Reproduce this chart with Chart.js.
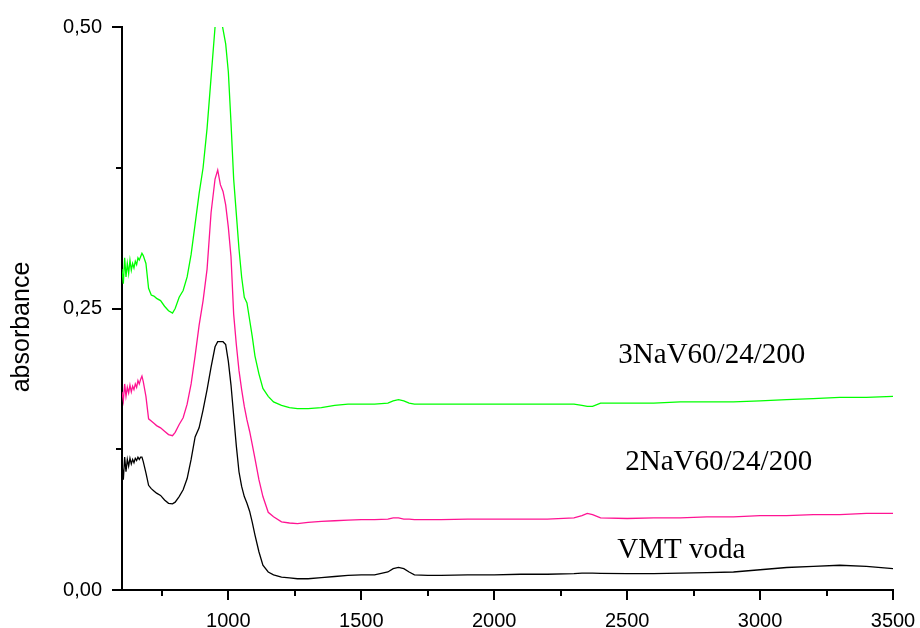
<!DOCTYPE html>
<html>
<head>
<meta charset="utf-8">
<script src="https://cdn.jsdelivr.net/npm/chart.js@4"></script>
<style>
  html, body { margin: 0; padding: 0; background: #fff; }
  #wrap { width: 920px; height: 628px; }
</style>
</head>
<body>
<div id="wrap"><canvas id="c" width="920" height="628"></canvas></div>
<script>
'use strict';

/* ══════════════ DATA ══════════════ */
const wavenumber = [
  600, 605, 610, 615, 620, 625, 630, 635, 640, 645, 650, 655, 660, 665, 670, 675, 680,
  690, 700, 710, 720, 730, 745, 760, 775, 790, 800, 815, 830, 845, 860, 875, 890, 905,
  920, 935, 950, 960, 970, 980, 990, 1000, 1010, 1020, 1030, 1040, 1050, 1060, 1070,
  1080, 1090, 1100, 1115, 1130, 1150, 1170, 1200, 1230, 1260, 1300, 1350, 1400, 1450,
  1500, 1550, 1600, 1620, 1640, 1660, 1680, 1700, 1750, 1800, 1900, 2000, 2100, 2200,
  2300, 2330, 2350, 2370, 2400, 2500, 2600, 2700, 2800, 2900, 3000, 3100, 3200, 3300,
  3400, 3500
];

const vmtVoda = [
  0.112, 0.098, 0.118, 0.105, 0.116, 0.110, 0.117, 0.112, 0.116, 0.113, 0.117, 0.115, 0.118, 0.116, 0.118, 0.118, 0.114,
  0.104, 0.093, 0.090, 0.088, 0.086, 0.084, 0.080, 0.077, 0.0765, 0.078, 0.083, 0.089, 0.099, 0.116, 0.136, 0.144, 0.160,
  0.178, 0.198, 0.216, 0.2205, 0.2205, 0.2205, 0.218, 0.203, 0.182, 0.155, 0.128, 0.105, 0.092, 0.083, 0.077,
  0.070, 0.060, 0.049, 0.034, 0.022, 0.016, 0.0135, 0.0115, 0.0107, 0.010, 0.010, 0.011, 0.012, 0.013,
  0.0135, 0.0135, 0.016, 0.019, 0.020, 0.019, 0.016, 0.0135, 0.013, 0.013, 0.0135, 0.0135, 0.014, 0.014,
  0.0145, 0.015, 0.015, 0.015, 0.0148, 0.0145, 0.0145, 0.015, 0.0155, 0.016, 0.018, 0.020, 0.021, 0.022,
  0.021, 0.019
];

const na2V = [
  0.176, 0.168, 0.183, 0.172, 0.180, 0.175, 0.182, 0.176, 0.181, 0.178, 0.183, 0.180, 0.186, 0.183, 0.187, 0.190, 0.185,
  0.172, 0.152, 0.150, 0.148, 0.146, 0.144, 0.141, 0.138, 0.137, 0.140, 0.147, 0.153, 0.165, 0.183, 0.208, 0.235, 0.257,
  0.285, 0.335, 0.365, 0.373, 0.360, 0.354, 0.342, 0.322, 0.296, 0.245, 0.218, 0.195, 0.178, 0.163, 0.151,
  0.141, 0.129, 0.117, 0.098, 0.083, 0.069, 0.065, 0.0605, 0.0595, 0.059, 0.060, 0.061, 0.0615, 0.062,
  0.0625, 0.0625, 0.063, 0.064, 0.064, 0.063, 0.063, 0.0625, 0.0625, 0.0625, 0.063, 0.063, 0.063, 0.063,
  0.064, 0.066, 0.068, 0.067, 0.064, 0.0635, 0.064, 0.064, 0.065, 0.065, 0.066, 0.066, 0.067, 0.067,
  0.068, 0.068
];

const na3V = [
  0.285, 0.272, 0.295, 0.278, 0.290, 0.281, 0.293, 0.284, 0.290, 0.286, 0.292, 0.289, 0.295, 0.293, 0.296, 0.299, 0.297,
  0.290, 0.268, 0.262, 0.261, 0.259, 0.257, 0.252, 0.248, 0.246, 0.250, 0.260, 0.266, 0.278, 0.298, 0.325, 0.352, 0.375,
  0.410, 0.455, 0.500, 0.515, 0.510, 0.498, 0.485, 0.460, 0.415, 0.365, 0.334, 0.303, 0.278, 0.260, 0.255,
  0.240, 0.225, 0.208, 0.192, 0.179, 0.172, 0.167, 0.164, 0.162, 0.161, 0.161, 0.162, 0.164, 0.165,
  0.165, 0.165, 0.166, 0.168, 0.169, 0.168, 0.166, 0.165, 0.165, 0.165, 0.165, 0.165, 0.165, 0.165,
  0.165, 0.164, 0.163, 0.163, 0.166, 0.166, 0.166, 0.167, 0.167, 0.167, 0.168, 0.169, 0.170, 0.171,
  0.171, 0.172
];

const seriesNames = ['VMT voda', '2NaV60/24/200', '3NaV60/24/200'];
const seriesColors = ['#000000', '#ff1493', '#00ff00'];
// label anchor (data coords, left/baseline)
const labelX = [2463, 2493, 2467];
const labelY = [0.028, 0.1062, 0.2013];

const xTicks = [750, 1000, 1250, 1500, 1750, 2000, 2250, 2500, 2750, 3000, 3250, 3500];
const yTicks = [0, 0.125, 0.25, 0.375, 0.5];
const yTitle = 'absorbance';

/* ══════════════ HELPERS ══════════════ */
const isMajorX = v => v % 500 === 0;
const isMajorY = v => Math.abs((v / 0.25) - Math.round(v / 0.25)) < 1e-6;
const fmtY = v => v.toFixed(2).replace('.', ',');
const toPoints = ys => wavenumber.map((x, i) => ({ x, y: ys[i] }));

/* ══════════════ PLUGINS ══════════════ */
const minorTicks = {
  id: 'minorTicks',
  afterDraw(chart) {
    const { ctx, chartArea: a, scales: { x, y } } = chart;
    ctx.save();
    ctx.strokeStyle = '#000';
    ctx.lineWidth = 2;
    ctx.beginPath();
    xTicks.filter(v => !isMajorX(v)).forEach(v => {
      const px = Math.round(x.getPixelForValue(v));
      ctx.moveTo(px, a.bottom); ctx.lineTo(px, a.bottom + 6);
    });
    yTicks.filter(v => !isMajorY(v)).forEach(v => {
      const py = Math.round(y.getPixelForValue(v));
      ctx.moveTo(a.left, py); ctx.lineTo(a.left - 6, py);
    });
    ctx.stroke();
    ctx.restore();
  }
};

const annotations = {
  id: 'annotations',
  afterDatasetsDraw(chart) {
    const { ctx, scales: { x, y } } = chart;
    ctx.save();
    ctx.fillStyle = '#000';
    ctx.font = '29px "Liberation Serif", serif';
    ctx.textAlign = 'left';
    ctx.textBaseline = 'alphabetic';
    seriesNames.forEach((name, i) => {
      ctx.fillText(name, x.getPixelForValue(labelX[i]), y.getPixelForValue(labelY[i]));
    });
    // y axis title
    ctx.translate(22, 327);
    ctx.rotate(-Math.PI / 2);
    ctx.textAlign = 'center';
    ctx.textBaseline = 'middle';
    ctx.font = '25px "Liberation Sans", Arial, sans-serif';
    ctx.fillText(yTitle, 0, 0);
    ctx.restore();
  }
};

/* ══════════════ CHART ══════════════ */
const tickFont = { family: '"Liberation Sans", Arial, sans-serif', size: 20 };

new Chart(document.getElementById('c'), {
  type: 'line',
  data: {
    datasets: [vmtVoda, na2V, na3V].map((ys, i) => ({
      label: seriesNames[i],
      data: toPoints(ys),
      borderColor: seriesColors[i],
      borderWidth: 1.3,
      pointRadius: 0,
      tension: 0
    }))
  },
  options: {
    responsive: false,
    animation: false,
    layout: { padding: { left: 0, top: 27, right: 27, bottom: 0 } },
    plugins: { legend: { display: false }, tooltip: { enabled: false } },
    scales: {
      x: {
        type: 'linear', min: 600, max: 3500,
        afterBuildTicks: s => { s.ticks = xTicks.map(value => ({ value })); },
        afterFit: s => { s.height = 38; s.paddingLeft = 0; s.paddingRight = 0; },
        border: { display: true, color: '#000', width: 2 },
        grid: {
          drawOnChartArea: false, drawTicks: true, tickLength: 10, lineWidth: 2,
          tickColor: c => (c.tick && isMajorX(c.tick.value)) ? '#000' : 'rgba(0,0,0,0)'
        },
        ticks: {
          color: '#000', font: tickFont, padding: 9, maxRotation: 0, autoSkip: false,
          callback: v => isMajorX(v) ? String(v) : ''
        }
      },
      y: {
        type: 'linear', min: 0, max: 0.5,
        afterBuildTicks: s => { s.ticks = yTicks.map(value => ({ value })); },
        afterFit: s => { s.width = 122; },
        border: { display: true, color: '#000', width: 2 },
        grid: {
          drawOnChartArea: false, drawTicks: true, tickLength: 10, lineWidth: 2,
          tickColor: c => (c.tick && isMajorY(c.tick.value)) ? '#000' : 'rgba(0,0,0,0)'
        },
        ticks: {
          color: '#000', font: tickFont, padding: 10, autoSkip: false,
          callback: v => isMajorY(v) ? fmtY(v) : ''
        }
      }
    }
  },
  plugins: [minorTicks, annotations]
});
</script>
</body>
</html>
